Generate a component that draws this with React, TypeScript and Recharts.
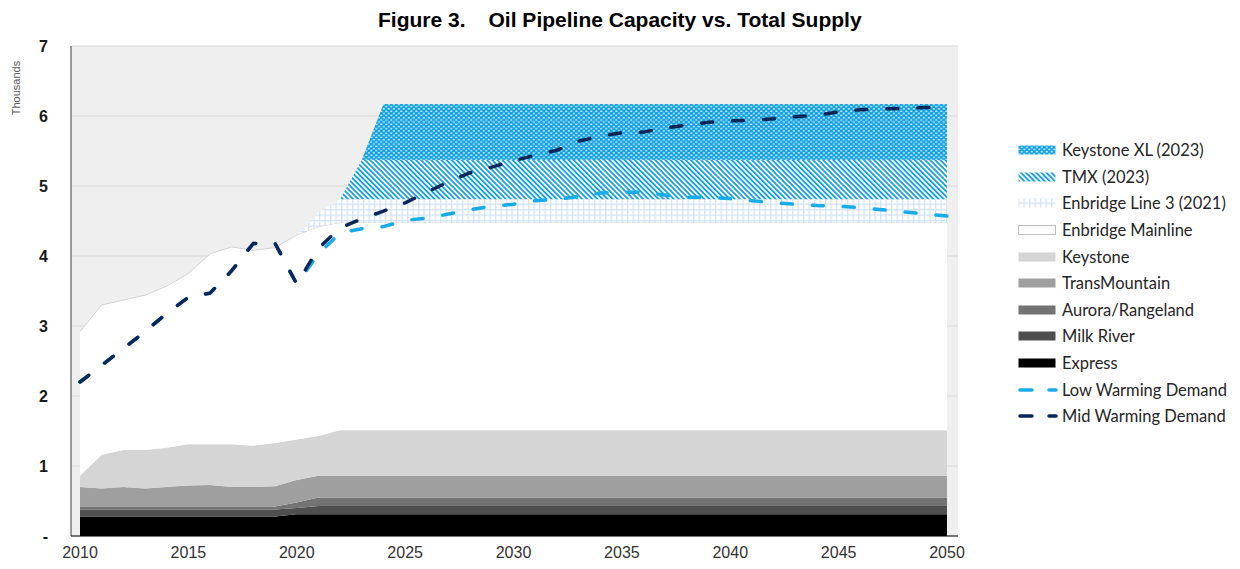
import { ComposedChart, Area, Line, XAxis, YAxis, CartesianGrid } from "recharts";

const years = [
  2010, 2011, 2012, 2013, 2014, 2015, 2016, 2017, 2018, 2019,
  2020, 2021, 2022, 2023, 2024, 2025, 2026, 2027, 2028, 2029,
  2030, 2031, 2032, 2033, 2034, 2035, 2036, 2037, 2038, 2039,
  2040, 2041, 2042, 2043, 2044, 2045, 2046, 2047, 2048, 2049, 2050,
];

// capacities, thousands of barrels per day (stacked bottom to top)
const express = [
  0.28, 0.28, 0.28, 0.28, 0.28, 0.28, 0.28, 0.28, 0.28, 0.28,
  0.31, 0.31, 0.31, 0.31, 0.31, 0.31, 0.31, 0.31, 0.31, 0.31,
  0.31, 0.31, 0.31, 0.31, 0.31, 0.31, 0.31, 0.31, 0.31, 0.31,
  0.31, 0.31, 0.31, 0.31, 0.31, 0.31, 0.31, 0.31, 0.31, 0.31, 0.31,
];
const milkRiver = [
  0.10, 0.10, 0.10, 0.10, 0.10, 0.10, 0.10, 0.10, 0.10, 0.10,
  0.09, 0.12, 0.12, 0.12, 0.12, 0.12, 0.12, 0.12, 0.12, 0.12,
  0.12, 0.12, 0.12, 0.12, 0.12, 0.12, 0.12, 0.12, 0.12, 0.12,
  0.12, 0.12, 0.12, 0.12, 0.12, 0.12, 0.12, 0.12, 0.12, 0.12, 0.12,
];
const aurora = [
  0.04, 0.04, 0.04, 0.04, 0.04, 0.04, 0.04, 0.04, 0.04, 0.04,
  0.08, 0.12, 0.12, 0.12, 0.12, 0.12, 0.12, 0.12, 0.12, 0.12,
  0.12, 0.12, 0.12, 0.12, 0.12, 0.12, 0.12, 0.12, 0.12, 0.12,
  0.12, 0.12, 0.12, 0.12, 0.12, 0.12, 0.12, 0.12, 0.12, 0.12, 0.12,
];
const transMountain = [
  0.28, 0.26, 0.28, 0.26, 0.28, 0.30, 0.31, 0.28, 0.28, 0.29,
  0.32, 0.31, 0.31, 0.31, 0.31, 0.31, 0.31, 0.31, 0.31, 0.31,
  0.31, 0.31, 0.31, 0.31, 0.31, 0.31, 0.31, 0.31, 0.31, 0.31,
  0.31, 0.31, 0.31, 0.31, 0.31, 0.31, 0.31, 0.31, 0.31, 0.31, 0.31,
];
const keystone = [
  0.16, 0.48, 0.53, 0.55, 0.56, 0.59, 0.58, 0.61, 0.59, 0.62,
  0.58, 0.57, 0.65, 0.65, 0.65, 0.65, 0.65, 0.65, 0.65, 0.65,
  0.65, 0.65, 0.65, 0.65, 0.65, 0.65, 0.65, 0.65, 0.65, 0.65,
  0.65, 0.65, 0.65, 0.65, 0.65, 0.65, 0.65, 0.65, 0.65, 0.65, 0.65,
];
const mainline = [
  2.06, 2.14, 2.14, 2.21, 2.31, 2.44, 2.72, 2.82, 2.79, 2.79,
  2.92, 2.99, 2.97, 2.97, 2.97, 2.97, 2.97, 2.97, 2.97, 2.97,
  2.97, 2.97, 2.97, 2.97, 2.97, 2.97, 2.97, 2.97, 2.97, 2.97,
  2.97, 2.97, 2.97, 2.97, 2.97, 2.97, 2.97, 2.97, 2.97, 2.97, 2.97,
];
const line3 = [
  0, 0, 0, 0, 0, 0, 0, 0, 0, 0,
  0, 0.20, 0.33, 0.33, 0.33, 0.33, 0.33, 0.33, 0.33, 0.33,
  0.33, 0.33, 0.33, 0.33, 0.33, 0.33, 0.33, 0.33, 0.33, 0.33,
  0.33, 0.33, 0.33, 0.33, 0.33, 0.33, 0.33, 0.33, 0.33, 0.33, 0.33,
];
const tmx = [
  0, 0, 0, 0, 0, 0, 0, 0, 0, 0,
  0, 0, 0, 0.56, 0.56, 0.56, 0.56, 0.56, 0.56, 0.56,
  0.56, 0.56, 0.56, 0.56, 0.56, 0.56, 0.56, 0.56, 0.56, 0.56,
  0.56, 0.56, 0.56, 0.56, 0.56, 0.56, 0.56, 0.56, 0.56, 0.56, 0.56,
];
const keystoneXL = [
  0, 0, 0, 0, 0, 0, 0, 0, 0, 0,
  0, 0, 0, 0, 0.80, 0.80, 0.80, 0.80, 0.80, 0.80,
  0.80, 0.80, 0.80, 0.80, 0.80, 0.80, 0.80, 0.80, 0.80, 0.80,
  0.80, 0.80, 0.80, 0.80, 0.80, 0.80, 0.80, 0.80, 0.80, 0.80, 0.80,
];

// demand / supply scenarios
const lowWarming = [
  2.20, 2.44, 2.68, 2.92, 3.18, 3.41, 3.47, 3.79, 4.18, 4.18,
  3.60, 4.03, 4.33, 4.39, 4.42, 4.51, 4.54, 4.60, 4.66, 4.71,
  4.74, 4.79, 4.81, 4.85, 4.90, 4.91, 4.91, 4.87, 4.84, 4.84,
  4.82, 4.79, 4.76, 4.74, 4.72, 4.71, 4.69, 4.66, 4.63, 4.60, 4.57,
];
const midWarming = [
  2.20, 2.44, 2.68, 2.92, 3.18, 3.41, 3.47, 3.79, 4.18, 4.18,
  3.60, 4.11, 4.40, 4.53, 4.64, 4.76, 4.91, 5.06, 5.19, 5.27,
  5.36, 5.44, 5.51, 5.64, 5.71, 5.76, 5.77, 5.83, 5.87, 5.91,
  5.93, 5.94, 5.96, 5.99, 6.01, 6.06, 6.09, 6.10, 6.11, 6.12, 6.13,
];

const xTicks = [2010, 2015, 2020, 2025, 2030, 2035, 2040, 2045, 2050];
const yTicks = [0, 1, 2, 3, 4, 5, 6, 7];

const BLUE = "#14a2e4";
const LOW = "#18abea";
const MID = "#0b2658";
const SANS = "'Liberation Sans', Arial, sans-serif";
const LEGEND_FONT = "Lato, 'Open Sans', sans-serif";

const PatternDefs = ({ p }: { p: string }) => (
  <defs>
    <pattern id={`${p}-kxl`} width={5} height={4.4} patternUnits="userSpaceOnUse">
      <rect width={5} height={4.4} fill={BLUE} />
      <rect x={0.3} y={0.6} width={2} height={1.1} fill="#ffffff" />
      <rect x={2.8} y={2.8} width={2} height={1.1} fill="#ffffff" />
    </pattern>
    <pattern id={`${p}-tmx`} width={3.6} height={3.6} patternUnits="userSpaceOnUse" patternTransform="rotate(-45)">
      <rect width={3.6} height={3.6} fill="#ffffff" />
      <rect width={1.8} height={3.6} fill={BLUE} />
    </pattern>
    <pattern id={`${p}-l3`} width={5.5} height={5.5} patternUnits="userSpaceOnUse">
      <rect width={5.5} height={5.5} fill="#ffffff" />
      <rect width={1.3} height={5.5} fill="#d3e4f7" />
      <rect width={5.5} height={1.3} fill="#d3e4f7" />
    </pattern>
  </defs>
);

const legendItems = [
  { name: "Keystone XL (2023)", fill: "kxl" },
  { name: "TMX (2023)", fill: "tmx" },
  { name: "Enbridge Line 3 (2021)", fill: "l3" },
  { name: "Enbridge Mainline", fill: "#ffffff", border: "#bfbfbf" },
  { name: "Keystone", fill: "#d5d5d5" },
  { name: "TransMountain", fill: "#9f9f9f" },
  { name: "Aurora/Rangeland", fill: "#737373" },
  { name: "Milk River", fill: "#4f4f4f" },
  { name: "Express", fill: "#000000" },
  { name: "Low Warming Demand", line: LOW },
  { name: "Mid Warming Demand", line: MID },
];

function LegendSwatch({ item, idx }: { item: any; idx: number }) {
  const p = `lg${idx}`;
  return (
    <svg width={40} height={12} style={{ display: "block" }}>
      <PatternDefs p={p} />
      {item.line ? (
        <line x1={2} y1={6} x2={38} y2={6} stroke={item.line} strokeWidth={3.5} strokeLinecap="round" strokeDasharray="12 17" />
      ) : (
        <rect
          x={0.5}
          y={1.5}
          width={37}
          height={9}
          fill={["kxl", "tmx", "l3"].includes(item.fill) ? `url(#${p}-${item.fill})` : item.fill}
          stroke={item.border || "none"}
        />
      )}
    </svg>
  );
}

export default function App() {
  const data = years.map((year, i) => ({
    year,
    express: express[i],
    milkRiver: milkRiver[i],
    aurora: aurora[i],
    transMountain: transMountain[i],
    keystone: keystone[i],
    mainline: mainline[i],
    line3: line3[i],
    tmx: tmx[i],
    keystoneXL: keystoneXL[i],
    low: lowWarming[i],
    mid: midWarming[i],
  }));

  return (
    <div style={{ position: "absolute", left: 0, top: 0, width: 1240, height: 569, background: "#fff", fontFamily: SANS }}>
      <div style={{ position: "absolute", left: 378, top: 8, fontSize: 21, fontWeight: 700, color: "#000", whiteSpace: "pre" }}>
        Figure 3.<span style={{ marginLeft: 23 }}>Oil Pipeline Capacity vs. Total Supply</span>
      </div>
      <div
        style={{
          position: "absolute",
          left: 16,
          top: 88,
          transform: "translate(-50%, -50%) rotate(-90deg)",
          fontSize: 11,
          color: "#595959",
          whiteSpace: "nowrap",
        }}
      >
        Thousands
      </div>

      <ComposedChart width={1240} height={569} data={data} margin={{ top: 46, right: 282, bottom: 3, left: 11 }}>
        <PatternDefs p="c" />
        <CartesianGrid vertical={false} fill="#efefef" stroke="#d9d9d9" />
        <XAxis
          dataKey="year"
          type="number"
          domain={[2010, 2050]}
          ticks={xTicks}
          padding={{ left: 9, right: 11 }}
          height={30}
          tickLine={false}
          tickMargin={5}
          axisLine={{ stroke: "#000", strokeWidth: 1 }}
          tick={{ fontSize: 16, fill: "#333", fontFamily: SANS }}
        />
        <YAxis
          width={60}
          domain={[0, 7]}
          ticks={yTicks}
          tickLine={false}
          tickMargin={17}
          axisLine={{ stroke: "#404040", strokeWidth: 1 }}
          tickFormatter={(v: number) => (v === 0 ? "-" : String(v))}
          tick={{ fontSize: 16, fontWeight: 700, fill: "#1a1a1a", fontFamily: SANS }}
        />
        <Area type="linear" dataKey="express" stackId="cap" fill="#000000" fillOpacity={1} stroke="none" isAnimationActive={false} activeDot={false} />
        <Area type="linear" dataKey="milkRiver" stackId="cap" fill="#4f4f4f" fillOpacity={1} stroke="none" isAnimationActive={false} activeDot={false} />
        <Area type="linear" dataKey="aurora" stackId="cap" fill="#737373" fillOpacity={1} stroke="none" isAnimationActive={false} activeDot={false} />
        <Area type="linear" dataKey="transMountain" stackId="cap" fill="#9f9f9f" fillOpacity={1} stroke="none" isAnimationActive={false} activeDot={false} />
        <Area type="linear" dataKey="keystone" stackId="cap" fill="#d5d5d5" fillOpacity={1} stroke="none" isAnimationActive={false} activeDot={false} />
        <Area type="linear" dataKey="mainline" stackId="cap" fill="#ffffff" fillOpacity={1} stroke="#d4d4d4" strokeWidth={1} isAnimationActive={false} activeDot={false} />
        <Area type="linear" dataKey="line3" stackId="cap" fill="url(#c-l3)" fillOpacity={1} stroke="none" isAnimationActive={false} activeDot={false} />
        <Area type="linear" dataKey="tmx" stackId="cap" fill="url(#c-tmx)" fillOpacity={1} stroke="none" isAnimationActive={false} activeDot={false} />
        <Area type="linear" dataKey="keystoneXL" stackId="cap" fill="url(#c-kxl)" fillOpacity={1} stroke="none" isAnimationActive={false} activeDot={false} />
        <Line type="linear" dataKey="low" stroke={LOW} strokeWidth={3.5} strokeDasharray="11 20" strokeLinecap="round" dot={false} activeDot={false} isAnimationActive={false} />
        <Line type="linear" dataKey="mid" stroke={MID} strokeWidth={3.5} strokeDasharray="11 20" strokeLinecap="round" dot={false} activeDot={false} isAnimationActive={false} />
      </ComposedChart>

      <div style={{ position: "absolute", left: 1018, top: 137, fontFamily: LEGEND_FONT, fontSize: 16.5, color: "#262626" }}>
        {legendItems.map((item, i) => (
          <div key={item.name} style={{ display: "flex", alignItems: "center", height: 26.6, whiteSpace: "nowrap" }}>
            <LegendSwatch item={item} idx={i} />
            <span style={{ marginLeft: 4 }}>{item.name}</span>
          </div>
        ))}
      </div>
    </div>
  );
}
